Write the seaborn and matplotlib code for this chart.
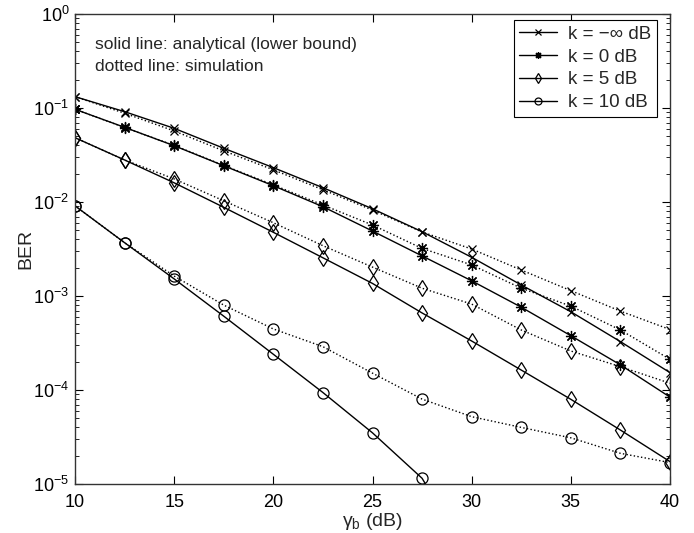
import numpy as np
import pandas as pd
import matplotlib
matplotlib.use("Agg")
import matplotlib.pyplot as plt
import seaborn as sns
from matplotlib.ticker import LogLocator, NullFormatter

# ---- data ----
snr = [10, 12.5, 15, 17.5, 20, 22.5, 25, 27.5, 30, 32.5, 35, 37.5, 40]

# analytical (solid)
ana_kinf = [0.132, 0.0914, 0.0608, 0.0373, 0.0232, 0.0142, 0.00847, 0.00483, 0.00258, 0.00131, 6.8e-4, 3.27e-4, 1.53e-4]
ana_k0 = [0.0969, 0.0623, 0.0397, 0.0243, 0.0149, 0.00891, 0.00491, 0.00267, 0.00145, 7.6e-4, 3.78e-4, 1.85e-4, 8.4e-5]
ana_k5 = [0.0483, 0.0280, 0.0160, 0.00878, 0.00476, 0.00255, 0.00136, 6.6e-4, 3.32e-4, 1.63e-4, 7.96e-5, 3.75e-5, 1.73e-5]
snr_k10_ana = [10, 12.5, 15, 17.5, 20, 22.5, 25, 27.5, 30]
ana_k10 = [0.0091, 0.00369, 0.00152, 6.1e-4, 2.4e-4, 9.4e-5, 3.5e-5, 1.15e-5, 1.5e-6]

# simulation (dotted)
sim_kinf = [0.132, 0.088, 0.057, 0.035, 0.022, 0.0135, 0.0082, 0.0048, 0.00316, 0.00189, 0.00114, 6.9e-4, 4.4e-4]
sim_k0 = [0.097, 0.062, 0.040, 0.0245, 0.0152, 0.0093, 0.00569, 0.00321, 0.00214, 0.00121, 7.8e-4, 4.35e-4, 2.12e-4]
sim_k5 = [0.0483, 0.0280, 0.0176, 0.0103, 0.00602, 0.00343, 0.00203, 0.00121, 8.2e-4, 4.35e-4, 2.6e-4, 1.77e-4, 1.18e-4]
sim_k10 = [0.0091, 0.00369, 0.00163, 8.0e-4, 4.46e-4, 2.89e-4, 1.51e-4, 8.0e-5, 5.2e-5, 4.0e-5, 3.1e-5, 2.12e-5, 1.69e-5]

labels = ["k = \u2212\u221e dB", "k = 0 dB", "k = 5 dB", "k = 10 dB"]

# ---- style ----
sns.set_style("ticks")
plt.rcParams["font.family"] = ["Liberation Sans", "DejaVu Sans"]
plt.rcParams["mathtext.fontset"] = "custom"
plt.rcParams["mathtext.rm"] = "Liberation Sans"
plt.rcParams["mathtext.it"] = "Liberation Sans:italic"
plt.rcParams["mathtext.default"] = "regular"

fig = plt.figure(figsize=(6.94, 5.33), dpi=100)
ax = fig.add_axes([75 / 694, 1 - 484 / 533, (670 - 75) / 694, (484 - 14) / 533])

markers = ["x", (8, 2, 0), "d", "o"]
msizes = [6, 8, 8, 8]
ana_sets = [(snr, ana_kinf), (snr, ana_k0), (snr, ana_k5), (snr_k10_ana, ana_k10)]
sim_sets = [sim_kinf, sim_k0, sim_k5, sim_k10]

for i in range(4):
    xs, ys = ana_sets[i]
    sns.lineplot(x=xs, y=ys, ax=ax, color="black", linewidth=1.0, marker=markers[i],
                 markersize=msizes[i], markerfacecolor="none", markeredgecolor="black",
                 markeredgewidth=0.9, label=labels[i], sort=False, estimator=None)
    sns.lineplot(x=snr, y=sim_sets[i], ax=ax, color="black", linewidth=1.0, linestyle=":",
                 marker=markers[i], markersize=msizes[i], markerfacecolor="none",
                 markeredgecolor="black", markeredgewidth=0.9, sort=False, estimator=None)

ax.set_yscale("log")
ax.set_xlim(10, 40)
ax.set_ylim(1e-5, 1)
ax.set_xticks([10, 15, 20, 25, 30, 35, 40])
ax.yaxis.set_major_locator(LogLocator(base=10, numticks=10))
ax.yaxis.set_minor_locator(LogLocator(base=10, subs=np.arange(2, 10), numticks=20))
ax.yaxis.set_minor_formatter(NullFormatter())

ax.tick_params(axis="both", which="both", direction="in", top=True, right=True, labelsize=13, colors="black")
ax.tick_params(axis="both", which="major", length=6, width=0.8)
ax.tick_params(axis="x", which="major", pad=7)
ax.tick_params(axis="y", which="major", pad=4)
ax.tick_params(axis="y", which="minor", length=3, width=0.6)
for s in ax.spines.values():
    s.set_visible(True)
    s.set_color("#333333")
    s.set_linewidth(1.0)

ax.set_xlabel("\u03b3$_{b}$ (dB)", fontsize=14, labelpad=0)
ax.set_ylabel("BER", fontsize=14, labelpad=-1)

ax.text(0.034, 0.935, "solid line: analytical (lower bound)", transform=ax.transAxes, fontsize=12.5, va="center")
ax.text(0.034, 0.888, "dotted line: simulation", transform=ax.transAxes, fontsize=12.5, va="center")

leg = ax.legend(loc="upper right", bbox_to_anchor=(0.978, 0.987), fontsize=13.5, frameon=True, fancybox=False,
                edgecolor="black", framealpha=1, borderpad=0.3, labelspacing=0.3, handlelength=2.0,
                handletextpad=0.6, borderaxespad=0.0)
leg.get_frame().set_linewidth(0.8)
for h in leg.legend_handles:
    h.set_markersize(5)

fig.savefig("out.png", dpi=100)
